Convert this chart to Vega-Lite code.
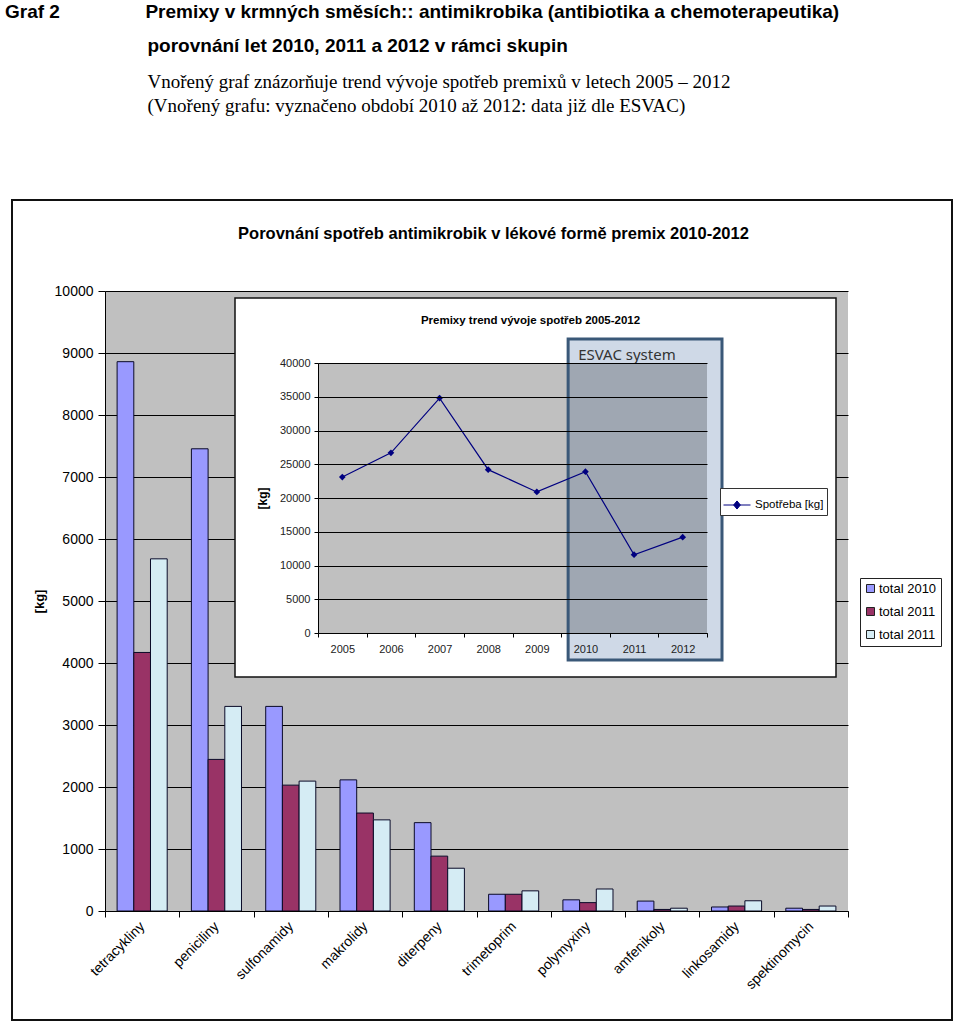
{
  "$schema": "https://vega.github.io/schema/vega-lite/v6.json",
  "width": 743,
  "height": 620,
  "autosize": "none",
  "padding": {"left": 105, "top": 291, "right": 112, "bottom": 115},
  "background": "white",
  "title": {
    "text": [
      "Graf 2\u2003\u2003\u2003\u2003\u2002Premixy v krmných směsích:: antimikrobika (antibiotika a chemoterapeutika)",
      "\u200B\u2003\u2003\u2003\u2003\u2003\u2003\u2003\u2002porovnání let 2010, 2011 a 2012 v rámci skupin"
    ],
    "subtitle": [
      "\u200B\u2003\u2003\u2003\u2003\u2003\u2003\u2003\u2002Vnořený graf znázorňuje trend vývoje spotřeb premixů v letech 2005 – 2012",
      "\u200B\u2003\u2003\u2003\u2003\u2003\u2003\u2003\u2002(Vnořený grafu: vyznačeno období 2010 až 2012: data již dle ESVAC)"
    ],
    "anchor": "start",
    "frame": "group",
    "dx": -100,
    "offset": 83,
    "font": "Liberation Sans",
    "fontSize": 19,
    "fontWeight": "bold",
    "color": "black",
    "lineHeight": 34,
    "subtitleFont": "Liberation Serif",
    "subtitleFontSize": 19,
    "subtitleColor": "black",
    "subtitleLineHeight": 24,
    "subtitlePadding": 17
  },
  "config": {
    "view": {"fill": "#C0C0C0", "stroke": null},
    "font": "Liberation Sans"
  },
  "resolve": {
    "scale": {"x": "independent", "y": "independent", "color": "independent"},
    "axis": {"x": "independent", "y": "independent"},
    "legend": {"color": "independent"}
  },
  "layer": [
    {
      "data": {
        "values": [
          {"skupina": "tetracykliny", "serie": "total 2010", "kg": 8860},
          {"skupina": "tetracykliny", "serie": "total 2011", "kg": 4170},
          {"skupina": "tetracykliny", "serie": "total 2012", "kg": 5680},
          {"skupina": "peniciliny", "serie": "total 2010", "kg": 7455},
          {"skupina": "peniciliny", "serie": "total 2011", "kg": 2445},
          {"skupina": "peniciliny", "serie": "total 2012", "kg": 3300},
          {"skupina": "sulfonamidy", "serie": "total 2010", "kg": 3300},
          {"skupina": "sulfonamidy", "serie": "total 2011", "kg": 2030},
          {"skupina": "sulfonamidy", "serie": "total 2012", "kg": 2095},
          {"skupina": "makrolidy", "serie": "total 2010", "kg": 2115},
          {"skupina": "makrolidy", "serie": "total 2011", "kg": 1580},
          {"skupina": "makrolidy", "serie": "total 2012", "kg": 1470},
          {"skupina": "diterpeny", "serie": "total 2010", "kg": 1425},
          {"skupina": "diterpeny", "serie": "total 2011", "kg": 885},
          {"skupina": "diterpeny", "serie": "total 2012", "kg": 690},
          {"skupina": "trimetoprim", "serie": "total 2010", "kg": 270},
          {"skupina": "trimetoprim", "serie": "total 2011", "kg": 270},
          {"skupina": "trimetoprim", "serie": "total 2012", "kg": 325},
          {"skupina": "polymyxiny", "serie": "total 2010", "kg": 180},
          {"skupina": "polymyxiny", "serie": "total 2011", "kg": 135},
          {"skupina": "polymyxiny", "serie": "total 2012", "kg": 355},
          {"skupina": "amfenikoly", "serie": "total 2010", "kg": 160},
          {"skupina": "amfenikoly", "serie": "total 2011", "kg": 25},
          {"skupina": "amfenikoly", "serie": "total 2012", "kg": 45},
          {"skupina": "linkosamidy", "serie": "total 2010", "kg": 65},
          {"skupina": "linkosamidy", "serie": "total 2011", "kg": 80},
          {"skupina": "linkosamidy", "serie": "total 2012", "kg": 165},
          {"skupina": "spektinomycin", "serie": "total 2010", "kg": 45},
          {"skupina": "spektinomycin", "serie": "total 2011", "kg": 25},
          {"skupina": "spektinomycin", "serie": "total 2012", "kg": 80}
        ]
      },
      "layer": [
        {
          "data": {"values": [{}]},
          "mark": {"type": "rect", "fillOpacity": 0, "stroke": "#111111", "strokeWidth": 2, "xOffset": -93, "x2Offset": 104, "yOffset": -91, "y2Offset": 109},
          "encoding": {
            "x": {"datum": "tetracykliny", "type": "nominal", "bandPosition": 0, "title": null},
            "x2": {"datum": "spektinomycin", "bandPosition": 1},
            "y": {"datum": 10000, "type": "quantitative", "title": null},
            "y2": {"datum": 0}
          }
        },
        {
          "mark": {"type": "bar", "stroke": "#0A0A28", "strokeWidth": 1},
          "encoding": {
            "x": {
              "field": "skupina", "type": "nominal",
              "sort": ["tetracykliny", "peniciliny", "sulfonamidy", "makrolidy", "diterpeny", "trimetoprim", "polymyxiny", "amfenikoly", "linkosamidy", "spektinomycin"],
              "scale": {"paddingInner": 0, "paddingOuter": 0},
              "axis": {
                "title": null, "grid": false, "labelAngle": -45, "labelAlign": "right", "labelBaseline": "middle",
                "labelPadding": 7, "labelFontSize": 14, "labelColor": "black", "tickBand": "extent",
                "tickSize": 6, "tickColor": "black", "domainColor": "black", "labelOverlap": false
              }
            },
            "xOffset": {"field": "serie", "type": "nominal", "scale": {"paddingInner": 0, "paddingOuter": 0.725}},
            "y": {
              "field": "kg", "type": "quantitative",
              "scale": {"domain": [0, 10000], "nice": false},
              "axis": {
                "values": [0, 1000, 2000, 3000, 4000, 5000, 6000, 7000, 8000, 9000, 10000],
                "format": "d", "grid": true, "gridColor": "black", "gridOpacity": 1, "gridWidth": 1,
                "domainColor": "black", "tickColor": "black", "tickSize": 7, "labelFontSize": 14,
                "labelColor": "black", "labelPadding": 5, "title": "[kg]", "titleFontSize": 13,
                "titleFontWeight": "bold", "titleColor": "black", "titlePadding": 8
              }
            },
            "color": {
              "field": "serie", "type": "nominal",
              "scale": {"domain": ["total 2010", "total 2011", "total 2012"], "range": ["#9999FF", "#993366", "#D5ECF4"]},
              "legend": {
                "orient": "none", "legendX": 755, "legendY": 287, "title": null,
                "strokeColor": "#222222", "fillColor": "white", "padding": 4,
                "symbolType": "square", "symbolSize": 64, "symbolStrokeColor": "#222222", "symbolStrokeWidth": 1,
                "labelFontSize": 13, "labelColor": "black", "rowPadding": 9, "labelOffset": 2,
                "labelExpr": "datum.label == 'total 2012' ? 'total 2011' : datum.label"
              }
            }
          }
        },
        {
          "data": {"values": [{}]},
          "mark": {
            "type": "text", "text": "Porovnání spotřeb antimikrobik  v lékové formě  premix 2010-2012",
            "fontSize": 16.5, "fontWeight": "bold", "color": "black", "align": "center", "baseline": "middle",
            "dx": 17, "dy": -57
          },
          "encoding": {
            "x": {"datum": "trimetoprim", "type": "nominal", "bandPosition": 0, "title": null},
            "y": {"datum": 10000, "type": "quantitative", "title": null}
          }
        }
      ]
    },
    {
      "data": {
        "values": [
          {"rok": "2005", "rada": "Spotřeba [kg]", "kg": 23100},
          {"rok": "2006", "rada": "Spotřeba [kg]", "kg": 26700},
          {"rok": "2007", "rada": "Spotřeba [kg]", "kg": 34800},
          {"rok": "2008", "rada": "Spotřeba [kg]", "kg": 24200},
          {"rok": "2009", "rada": "Spotřeba [kg]", "kg": 20900},
          {"rok": "2010", "rada": "Spotřeba [kg]", "kg": 23900},
          {"rok": "2011", "rada": "Spotřeba [kg]", "kg": 11600},
          {"rok": "2012", "rada": "Spotřeba [kg]", "kg": 14200}
        ]
      },
      "layer": [
        {
          "data": {"values": [{}]},
          "mark": {"type": "rect", "fill": "white", "stroke": "#111111", "strokeWidth": 1.5, "xOffset": -83, "x2Offset": 129, "yOffset": -65, "y2Offset": 44},
          "encoding": {
            "x": {"datum": "2005", "type": "ordinal", "bandPosition": 0, "title": null},
            "x2": {"datum": "2012", "bandPosition": 1},
            "y": {"datum": 40000, "type": "quantitative", "title": null},
            "y2": {"datum": 0}
          }
        },
        {
          "data": {"values": [{}]},
          "mark": {"type": "rect", "fill": "#C0C0C0"},
          "encoding": {
            "x": {"datum": "2005", "type": "ordinal", "bandPosition": 0, "title": null},
            "x2": {"datum": "2012", "bandPosition": 1},
            "y": {"datum": 40000, "type": "quantitative", "title": null},
            "y2": {"datum": 0}
          }
        },
        {
          "data": {"values": [{}]},
          "mark": {"type": "rect", "fill": "#CFD9E7", "xOffset": 7, "x2Offset": 15, "yOffset": -24, "y2Offset": 27},
          "encoding": {
            "x": {"datum": "2010", "type": "ordinal", "bandPosition": 0, "title": null},
            "x2": {"datum": "2012", "bandPosition": 1},
            "y": {"datum": 40000, "type": "quantitative", "title": null},
            "y2": {"datum": 0}
          }
        },
        {
          "data": {"values": [{}]},
          "mark": {"type": "rect", "fill": "#9FA7B2", "xOffset": 7},
          "encoding": {
            "x": {"datum": "2010", "type": "ordinal", "bandPosition": 0, "title": null},
            "x2": {"datum": "2012", "bandPosition": 1},
            "y": {"datum": 40000, "type": "quantitative", "title": null},
            "y2": {"datum": 0}
          }
        },
        {
          "data": {"values": [{}]},
          "mark": {"type": "rect", "fillOpacity": 0, "stroke": "#3A5878", "strokeWidth": 3, "xOffset": 7, "x2Offset": 15, "yOffset": -24, "y2Offset": 27},
          "encoding": {
            "x": {"datum": "2010", "type": "ordinal", "bandPosition": 0, "title": null},
            "x2": {"datum": "2012", "bandPosition": 1},
            "y": {"datum": 40000, "type": "quantitative", "title": null},
            "y2": {"datum": 0}
          }
        },
        {
          "data": {"values": [{}]},
          "mark": {"type": "text", "text": "ESVAC  system", "font": "Noto Sans", "fontSize": 15, "color": "#333333", "align": "left", "baseline": "middle", "dx": 17, "dy": -8},
          "encoding": {
            "x": {"datum": "2010", "type": "ordinal", "bandPosition": 0, "title": null},
            "y": {"datum": 40000, "type": "quantitative", "title": null}
          }
        },
        {
          "data": {"values": [{}]},
          "mark": {"type": "text", "text": "Premixy trend vývoje spotřeb 2005-2012", "fontSize": 11.5, "fontWeight": "bold", "color": "black", "align": "center", "baseline": "middle", "dx": 18, "dy": -42},
          "encoding": {
            "x": {"datum": "2009", "type": "ordinal", "bandPosition": 0, "title": null},
            "y": {"datum": 40000, "type": "quantitative", "title": null}
          }
        },
        {
          "mark": {"type": "line", "strokeWidth": 1.2, "point": {"shape": "diamond", "size": 45, "filled": true}},
          "encoding": {
            "x": {
              "field": "rok", "type": "ordinal",
              "scale": {"type": "band", "domain": ["2005", "2006", "2007", "2008", "2009", "2010", "2011", "2012"], "range": [213, 602], "paddingInner": 0, "paddingOuter": 0},
              "axis": {
                "orient": "bottom", "offset": -278, "title": null, "labelAngle": 0, "labelAlign": "center",
                "labelBaseline": "top", "labelFontSize": 11,
                "labelColor": "#222222", "tickBand": "extent", "tickSize": 4, "tickColor": "black",
                "domainColor": "black", "grid": false, "labelPadding": 6, "zindex": 1
              }
            },
            "y": {
              "field": "kg", "type": "quantitative",
              "scale": {"domain": [0, 40000], "range": [342, 72], "nice": false},
              "axis": {
                "orient": "left", "offset": -213,
                "values": [0, 5000, 10000, 15000, 20000, 25000, 30000, 35000, 40000],
                "format": "d", "grid": true, "gridColor": "black", "gridOpacity": 1, "gridWidth": 1,
                "domainColor": "black", "tickColor": "black", "tickSize": 4, "labelFontSize": 11,
                "labelColor": "#222222", "labelPadding": 4, "title": "[kg]", "titleFontSize": 12,
                "titleFontWeight": "bold", "titleColor": "black", "titlePadding": 10, "zindex": 1
              }
            },
            "color": {
              "field": "rada", "type": "nominal",
              "scale": {"range": ["#000080"]},
              "legend": {
                "orient": "none", "legendX": 615, "legendY": 197, "title": null,
                "strokeColor": "#333333", "fillColor": "white", "padding": 3,
                "symbolType": "M-1,0H1M0,-0.3L0.25,0L0,0.3L-0.25,0Z", "symbolSize": 729,
                "symbolStrokeColor": "#000080", "symbolFillColor": "#000080", "symbolStrokeWidth": 1,
                "labelFontSize": 11.5, "labelColor": "black"
              }
            }
          }
        }
      ]
    }
  ]
}
